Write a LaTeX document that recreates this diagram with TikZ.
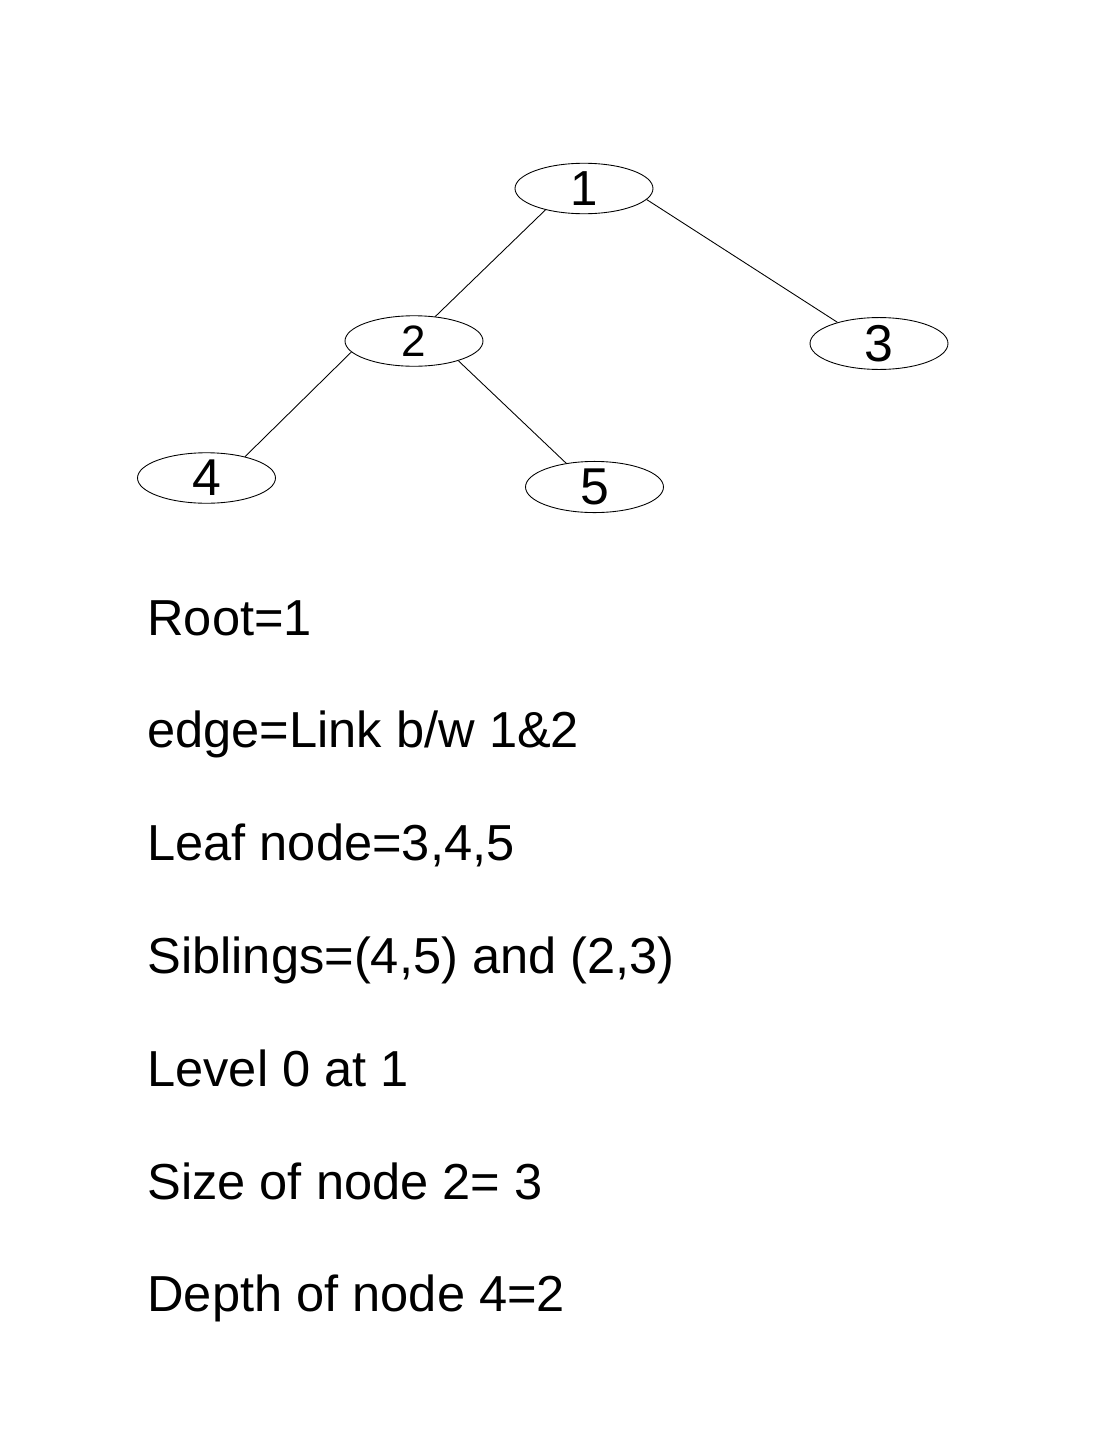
\documentclass[tikz,border=0pt]{standalone}
\usepackage{fontspec}
\setmainfont{Liberation Sans}
\usepackage{tikz}
\usetikzlibrary{shapes.geometric}

\begin{document}
\begin{tikzpicture}[x=0.02cm, y=-0.02cm,
    treenode/.style={draw, ellipse, line width=0.5pt, inner sep=0pt,
                     minimum width=2.76cm, minimum height=1.01cm},
    fact/.style={anchor=base west, inner sep=0pt, font=\fontsize{28.8}{34}\selectfont},
    link/.style={line width=0.5pt}]
    \useasboundingbox (0,0) rectangle (1105,1430);
    % the tree
    \node[treenode, font=\fontsize{28}{32}\selectfont] (n1) at (584,188.5) {1};
    \node[treenode, font=\fontsize{25}{28}\selectfont] (n2) at (414,341) {2};
    \node[treenode, font=\fontsize{29.5}{32}\selectfont] (n3) at (879,343.5) {3};
    \node[treenode, font=\fontsize{29.5}{32}\selectfont] (n4) at (206.5,478) {4};
    \node[treenode, font=\fontsize{29.5}{32}\selectfont] (n5) at (594.5,487) {5};
    \draw[link] (n1.209) -- (n2.49);
    \draw[link] (n1.-10) -- (n3.153);
    \draw[link] (n2.190) -- (n4.29);
    \draw[link] (n2.-24) -- (n5.140);
    % the terms
    \node[fact] (root)  at (147,635)    {Root=1};
    \node[fact] (edge)  at (147,747.8)  {edge=Link b/w 1\&2};
    \node[fact] (leaf)  at (147,860.6)  {Leaf node=3,4,5};
    \node[fact] (sib)   at (147,973.4)  {Siblings=(4,5) and (2,3)};
    \node[fact] (level) at (147,1086.2) {Level 0 at 1};
    \node[fact] (size)  at (147,1199)   {Size of node 2= 3};
    \node[fact] (depth) at (147,1311.8) {Depth of node 4=2};
\end{tikzpicture}
\end{document}
